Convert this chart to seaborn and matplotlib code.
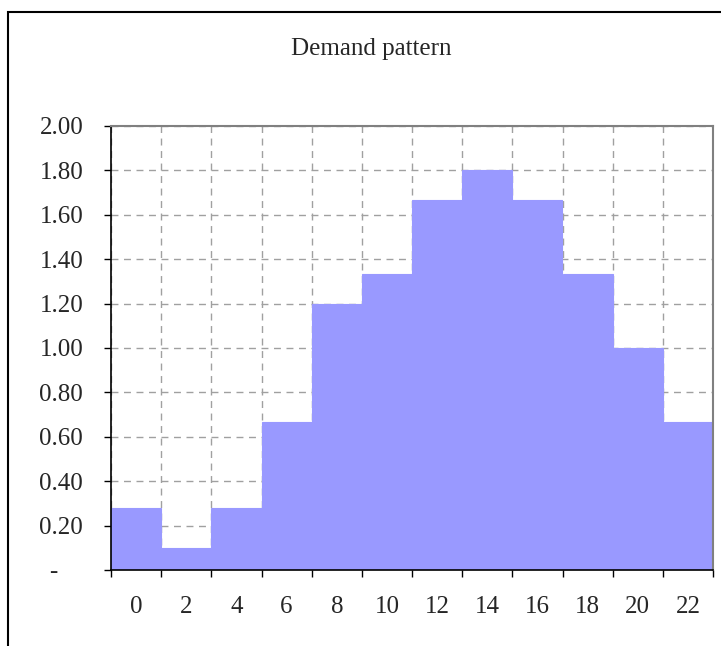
import matplotlib
matplotlib.use("Agg")
import matplotlib.pyplot as plt
import seaborn as sns
import numpy as np
import pandas as pd
from matplotlib.patches import Rectangle
from matplotlib.ticker import FixedLocator, FuncFormatter

hours = [0, 2, 4, 6, 8, 10, 12, 14, 16, 18, 20, 22]
demand = [0.28, 0.10, 0.28, 0.667, 1.20, 1.333, 1.667, 1.80, 1.667, 1.333, 1.00, 0.667]
y_ticks = [0.0, 0.2, 0.4, 0.6, 0.8, 1.0, 1.2, 1.4, 1.6, 1.8, 2.0]
title = "Demand pattern"

sns.set_style("white")
plt.rcParams['font.family'] = ['Liberation Serif', 'DejaVu Serif']

W, H = 721, 646
FS = 18
fig = plt.figure(figsize=(W / 100, H / 100), dpi=100)
ax = fig.add_axes([111 / W, 76 / H, 602 / W, 444 / H])

df = pd.DataFrame({"hour": hours, "demand": demand})
sns.barplot(data=df, x="hour", y="demand", color="#9999FF", saturation=1,
            width=1.0, ax=ax, errorbar=None, linewidth=0.8, edgecolor="#9999FF", zorder=2)

n = len(hours)
ax.set_xlim(-0.5, n - 0.5)
ax.set_ylim(0, 2.0)
ax.set_yticks(y_ticks)
ax.yaxis.set_major_formatter(FuncFormatter(lambda v, p: "-    " if abs(v) < 1e-9 else f"{v:.2f}"))
ax.xaxis.set_minor_locator(FixedLocator(np.arange(-0.5, n, 1.0)))
ax.set_xlabel("")
ax.set_ylabel("")

ax.tick_params(axis="x", which="major", length=0, pad=19, labelsize=FS)
ax.tick_params(axis="x", which="minor", length=5, width=1, color="black", direction="out", bottom=True)
ax.tick_params(axis="y", which="major", length=5, width=1, color="black", direction="out", left=True, pad=15, labelsize=FS)

ax.set_axisbelow(True)
ax.grid(False)
ax.yaxis.grid(True, which="major", color="#a0a0a0", linestyle=(0, (5, 4)), linewidth=1)
ax.xaxis.grid(True, which="minor", color="#a0a0a0", linestyle=(0, (5, 4)), linewidth=1)

for s in ["left", "bottom"]:
    ax.spines[s].set_color("black")
    ax.spines[s].set_linewidth(1.2)
for s in ["right", "top"]:
    ax.spines[s].set_color("#808080")
    ax.spines[s].set_linewidth(1.5)
    ax.spines[s].set_visible(True)

fig.text(371 / W, 1 - 49 / H, title, ha="center", va="center", fontsize=FS)

border = Rectangle((8 / W, -0.2), 1.5, 1.2 - 12 / H, transform=fig.transFigure,
                   facecolor="none", edgecolor="black", linewidth=1.5, clip_on=False)
fig.patches.append(border)

fig.savefig("out.png", dpi=100)
